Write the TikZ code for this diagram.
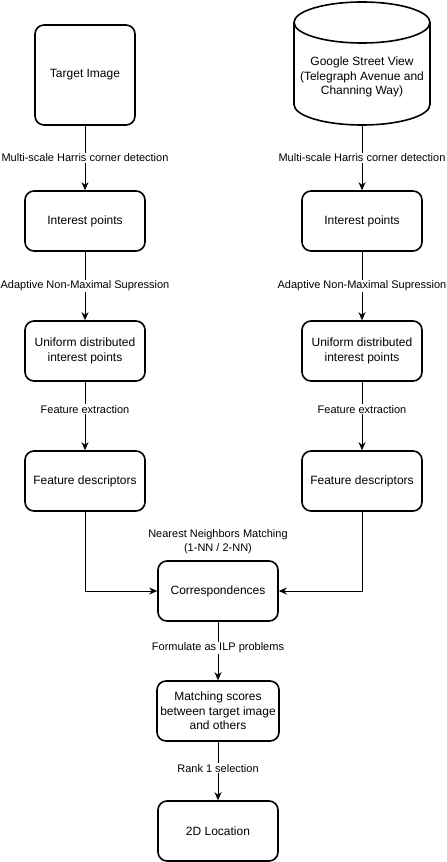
\documentclass[tikz,border=0pt]{standalone}
\usepackage{fontspec}
\setmainfont{Liberation Sans}
\usetikzlibrary{arrows.meta}
\begin{document}
\begin{tikzpicture}[x=1pt, y=-1pt,
    boxStyle/.style={draw, rounded corners=9pt, line width=1.6pt, minimum width=120pt, minimum height=60pt, align=center, font=\fontsize{12}{14.5}\selectfont},
    edgeStyle/.style={-{Stealth[length=8pt, width=7pt]}, line width=0.8pt},
    labelStyle/.style={fill=white, inner sep=1pt, align=center, font=\fontsize{11}{14}\selectfont}]
                    \useasboundingbox (0,0) rectangle (447,862);

                    \node[boxStyle, minimum width=100pt, minimum height=100pt](tgt) at (85,75) {Target Image};
                    \node[minimum width=136pt, minimum height=123pt, inner sep=0pt, outer sep=0pt](gsv) at (362,63.5) {};
                    \node[align=center, font=\fontsize{12}{14.5}\selectfont](gsvtxt) at (362,77) {Google Street View\\(Telegraph Avenue and\\Channing Way)};
                    \draw[line width=1.6pt] (294,22.5) -- (294,104.5)
                        .. controls (294,115.8) and (324.4,125) .. (362,125)
                        .. controls (399.6,125) and (430,115.8) .. (430,104.5) -- (430,22.5);
                    \draw[line width=1.6pt] (362,22.5) ellipse [x radius=68, y radius=20.5];

                    \node[boxStyle](l1) at (85,221) {Interest points};
                    \node[boxStyle](r1) at (362,221) {Interest points};
                    \node[boxStyle](l2) at (85,351) {Uniform distributed\\interest points};
                    \node[boxStyle](r2) at (362,351) {Uniform distributed\\interest points};
                    \node[boxStyle](l3) at (85,481) {Feature descriptors};
                    \node[boxStyle](r3) at (362,481) {Feature descriptors};
                    \node[boxStyle](corr) at (218,591) {Correspondences};
                    \node[boxStyle](score) at (218,711) {Matching scores\\between target image\\and others};
                    \node[boxStyle](loc) at (218,831) {2D Location};
                    \node[labelStyle](nnlab) at (218,541.5) {Nearest Neighbors Matching\\(1-NN / 2-NN)};

                    \draw[edgeStyle] (tgt) -- (l1) node[labelStyle, pos=0.5] {Multi-scale Harris corner detection};
                    \draw[edgeStyle] (gsv) -- (r1) node[labelStyle, pos=0.5] {Multi-scale Harris corner detection};
                    \draw[edgeStyle] (l1) -- (l2) node[labelStyle, pos=0.5] {Adaptive Non-Maximal Supression};
                    \draw[edgeStyle] (r1) -- (r2) node[labelStyle, pos=0.5] {Adaptive Non-Maximal Supression};
                    \draw[edgeStyle] (l2) -- (l3) node[labelStyle, pos=0.4] {Feature extraction};
                    \draw[edgeStyle] (r2) -- (r3) node[labelStyle, pos=0.4] {Feature extraction};
                    \draw[edgeStyle] (l3) |- (corr);
                    \draw[edgeStyle] (r3) |- (corr);
                    \draw[edgeStyle] (corr) -- (score) node[labelStyle, pos=0.45] {Formulate as ILP problems};
                    \draw[edgeStyle] (score) -- (loc) node[labelStyle, pos=0.45] {Rank 1 selection};
                \end{tikzpicture}
\end{document}
